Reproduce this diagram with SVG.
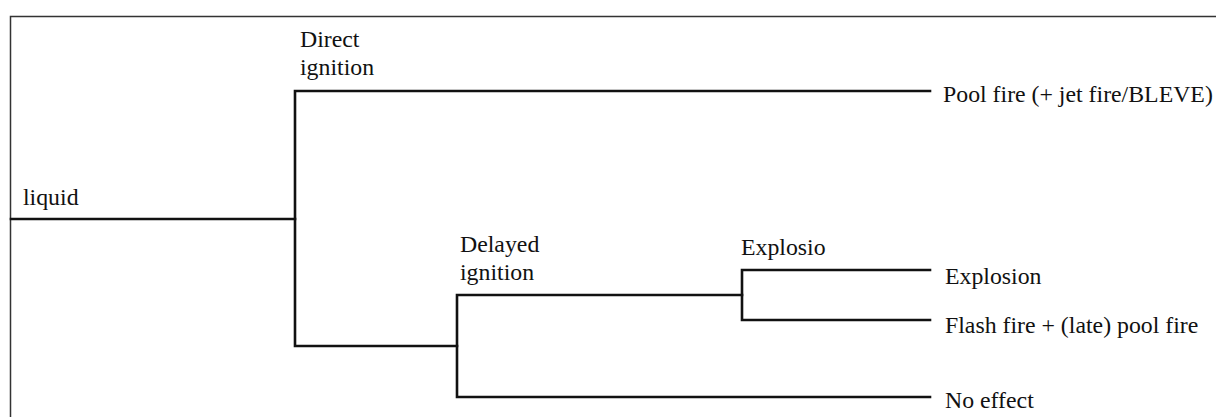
<svg xmlns="http://www.w3.org/2000/svg" width="1216" height="417" viewBox="0 0 1216 417">
<style>
text{font-family:"Liberation Serif","Times New Roman",serif;font-size:23.8px;fill:#111}
.c{fill:none;stroke:#111;stroke-width:2.6;stroke-linejoin:miter;stroke-linecap:square}
.frame{fill:none;stroke:#333;stroke-width:1.5}
</style>
<rect width="1216" height="417" fill="#fff"/>
<rect class="frame" x="10.5" y="16.5" width="1220" height="420"/>
<g id="connectors">
<path class="c" d="M11 219H295"/>
<path class="c" d="M930 91H295V346H457"/>
<path class="c" d="M930 397H457V295H742"/>
<path class="c" d="M930 270H742V320H930"/>
</g>
<g id="node-liquid"><text x="23" y="205">liquid</text></g>
<g id="node-direct"><text x="300" y="47">Direct</text><text x="300" y="75">ignition</text></g>
<g id="node-delayed"><text x="460" y="252">Delayed</text><text x="460" y="280">ignition</text></g>
<g id="node-explosio"><text x="741" y="255">Explosio</text></g>
<g id="node-pool"><text x="943" y="102">Pool fire (+ jet fire/BLEVE)</text></g>
<g id="node-explosion"><text x="945" y="284">Explosion</text></g>
<g id="node-flash"><text x="945" y="333">Flash fire + (late) pool fire</text></g>
<g id="node-noeffect"><text x="945" y="408">No effect</text></g>
</svg>
